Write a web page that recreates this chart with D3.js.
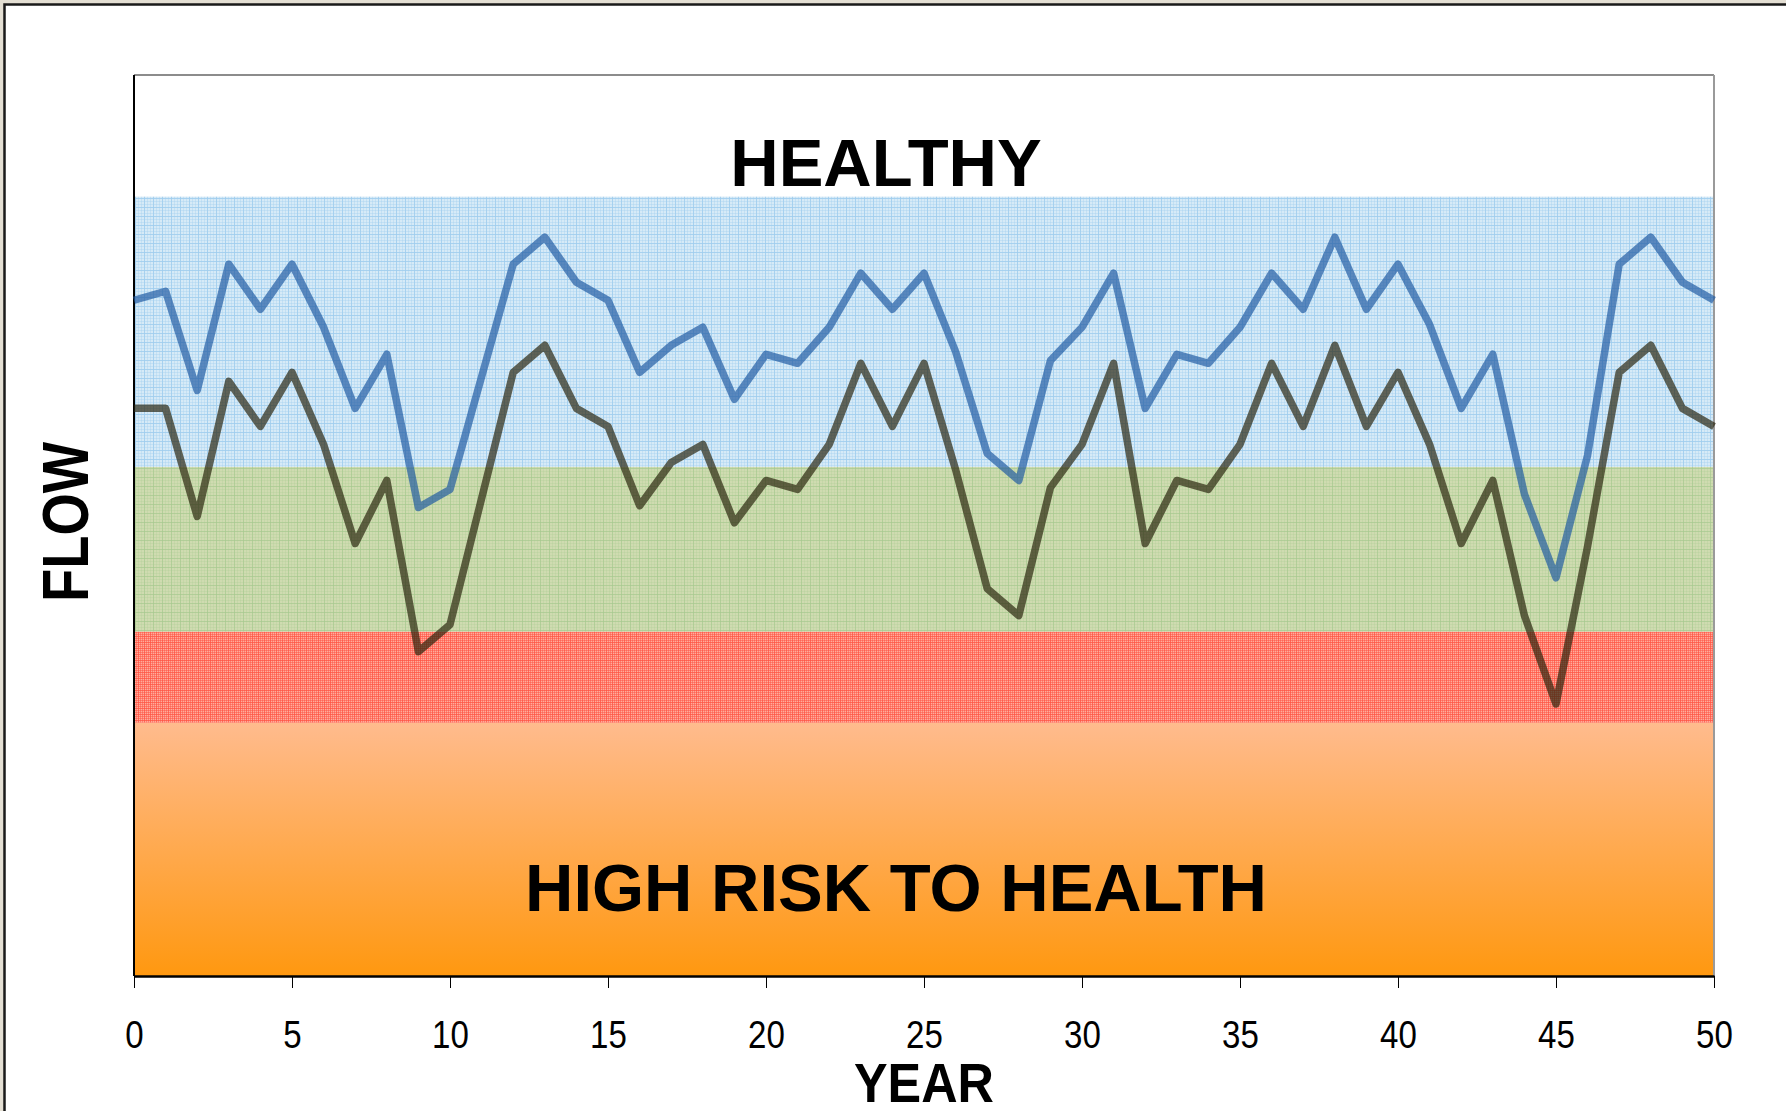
<!DOCTYPE html>
<html>
<head>
<meta charset="utf-8">
<script src="https://cdn.jsdelivr.net/npm/d3@7"></script>
<style>
  body { margin: 0; background: #e4dfd3; overflow: hidden; }
  svg { display: block; }
  text { font-family: "Liberation Sans", Arial, sans-serif; }
</style>
</head>
<body>
<div id="chart"></div>
<script>
// data (flow in arbitrary units, 0 = bottom of the plot, 100 = top)
var years = d3.range(0, 51);
var upperFlow = [75, 76, 65, 79, 74, 79, 72, 63, 69, 52, 54, 66.5, 79, 82, 77, 75, 67, 70, 72, 64,
                 69, 68, 72, 78, 74, 78, 69.3, 58, 55, 68.3, 72, 78, 63, 69, 68, 72, 78, 74, 82, 74,
                 79, 72.3, 63, 69, 53.5, 44.2, 57.8, 79, 82, 77, 75];
var lowerFlow = [63, 63, 51, 66, 61, 67, 59, 48, 55, 36, 39, 53, 67, 70, 63, 61, 52.2, 57, 59, 50.3,
                 55, 54, 59, 68, 61, 68, 56.2, 43, 40, 54.2, 59, 68, 48, 55, 54, 59, 68, 61, 70, 61,
                 67, 59, 48, 55, 40, 30.2, 47.7, 67, 70, 63, 61];
var bandNames = ["healthy", "moderate", "poor", "high"];
var bandTop = [86.5, 56.5, 38.2, 28.1];
var bandBottom = [56.5, 38.2, 28.1, 0];
var xTicks = [0, 5, 10, 15, 20, 25, 30, 35, 40, 45, 50];

var width = 1786, height = 1111;
var padding = { top: 75, right: 72, bottom: 135, left: 134 };

var svg = d3.select("#chart")
    .append("svg")
    .attr("width", width)
    .attr("height", height);

// outer frame
svg.append("rect")
    .attr("x", 4.5).attr("y", 4.5)
    .attr("width", width + 20).attr("height", height + 20)
    .attr("fill", "#ffffff")
    .attr("stroke", "#1a1a1a")
    .attr("stroke-width", 2.5);

var xScale = d3.scaleLinear()
    .domain([0, 50])
    .range([padding.left, width - padding.right]);
var yScale = d3.scaleLinear()
    .domain([0, 100])
    .range([height - padding.bottom, padding.top]);

var defs = svg.append("defs");

function gridPattern(id, size, bg, lines, step, strong, weak) {
    var p = defs.append("pattern")
        .attr("id", id)
        .attr("patternUnits", "userSpaceOnUse")
        .attr("width", size).attr("height", size);
    p.append("rect").attr("width", size).attr("height", size).attr("fill", bg);
    for (var i = 0; i < size; i += step) {
        p.append("rect").attr("x", i).attr("y", 0).attr("width", 1).attr("height", size)
            .attr("fill", lines).attr("opacity", i == 0 ? strong : weak);
        p.append("rect").attr("x", 0).attr("y", i).attr("width", size).attr("height", 1)
            .attr("fill", lines).attr("opacity", i == 0 ? strong : weak);
    }
    return p;
}
gridPattern("pat-healthy", 9, "#d6eaf7", "#9fcdee", 3, 0.85, 0.35);
gridPattern("pat-moderate", 9, "#cfdbb0", "#a6ca8f", 3, 0.7, 0.25);
gridPattern("pat-poor", 6, "#ffac9c", "#ff5241", 2, 0.75, 0.5);

var grad = defs.append("linearGradient")
    .attr("id", "pat-high")
    .attr("x1", 0).attr("y1", 0).attr("x2", 0).attr("y2", 1);
grad.append("stop").attr("offset", "0%").attr("stop-color", "#ffbb8d");
grad.append("stop").attr("offset", "100%").attr("stop-color", "#ff9810");

// bands
svg.append("g")
    .selectAll("rect")
    .data(bandNames)
    .enter()
    .append("rect")
    .attr("x", xScale(0) + 1)
    .attr("y", function(d, i) { return yScale(bandTop[i]); })
    .attr("width", xScale(50) - xScale(0) - 1)
    .attr("height", function(d, i) { return yScale(bandBottom[i]) - yScale(bandTop[i]); })
    .attr("fill", function(d) { return "url(#pat-" + d + ")"; });

// plot border
var border = svg.append("g");
border.append("line")
    .attr("x1", xScale(0)).attr("x2", xScale(50))
    .attr("y1", yScale(100)).attr("y2", yScale(100))
    .attr("stroke", "#8c8c8c").attr("stroke-width", 2);
border.append("line")
    .attr("x1", xScale(50)).attr("x2", xScale(50))
    .attr("y1", yScale(100)).attr("y2", yScale(0))
    .attr("stroke", "#9a9a9a").attr("stroke-width", 2);
border.append("line")
    .attr("x1", xScale(0)).attr("x2", xScale(0))
    .attr("y1", yScale(100)).attr("y2", yScale(0))
    .attr("stroke", "#000").attr("stroke-width", 2);

// lines
var linePath = d3.line()
    .x(function(d, i) { return xScale(years[i]); })
    .y(function(d) { return yScale(d); });

svg.append("path")
    .attr("d", linePath(lowerFlow))
    .attr("fill", "none")
    .attr("stroke", "rgb(38,34,10)")
    .attr("stroke-opacity", 0.68)
    .attr("stroke-width", 7.5)
    .attr("stroke-linejoin", "round");

svg.append("path")
    .attr("d", linePath(upperFlow))
    .attr("fill", "none")
    .attr("stroke", "rgb(30,88,160)")
    .attr("stroke-opacity", 0.68)
    .attr("stroke-width", 7.5)
    .attr("stroke-linejoin", "round");

// x axis
var xAxis = d3.axisBottom(xScale)
    .tickValues(xTicks)
    .tickSize(12)
    .tickSizeOuter(0)
    .tickPadding(33);
var gx = svg.append("g")
    .attr("transform", "translate(0," + yScale(0) + ")")
    .call(xAxis);
gx.select(".domain").attr("stroke", "#000").attr("stroke-width", 2.5);
gx.selectAll(".tick line").attr("stroke", "#000").attr("stroke-width", 1);
gx.selectAll(".tick text")
    .attr("fill", "#000")
    .attr("font-size", 38)
    .attr("font-family", "Liberation Sans, Arial, sans-serif")
    .attr("transform", "scale(0.87,1)");

// labels
svg.append("text")
    .attr("x", 886).attr("y", 186)
    .attr("text-anchor", "middle")
    .attr("font-size", 67).attr("font-weight", "bold")
    .text("HEALTHY");

svg.append("text")
    .attr("x", 896).attr("y", 911)
    .attr("text-anchor", "middle")
    .attr("font-size", 67).attr("font-weight", "bold")
    .text("HIGH RISK TO HEALTH");

svg.append("text")
    .attr("x", (xScale(0) + xScale(50)) / 2).attr("y", 1102)
    .attr("text-anchor", "middle")
    .attr("font-size", 56).attr("font-weight", "bold")
    .attr("textLength", 140).attr("lengthAdjust", "spacingAndGlyphs")
    .text("YEAR");

svg.append("text")
    .attr("transform", "translate(88,522) rotate(-90)")
    .attr("text-anchor", "middle")
    .attr("font-size", 64).attr("font-weight", "bold")
    .attr("textLength", 160).attr("lengthAdjust", "spacingAndGlyphs")
    .text("FLOW");
</script>
</body>
</html>
